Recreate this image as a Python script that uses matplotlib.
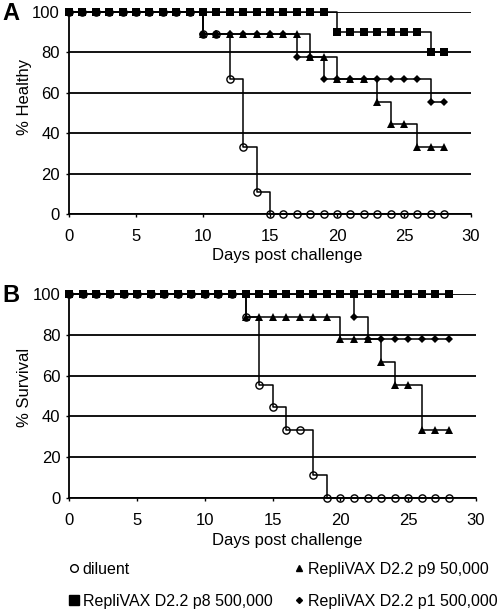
import matplotlib

matplotlib.use("Agg")
import matplotlib.pyplot as plt
from matplotlib.lines import Line2D

plt.rcParams["font.family"] = ["Liberation Sans", "DejaVu Sans"]
plt.rcParams["font.size"] = 11

days = list(range(29))
x_ticks = [0, 5, 10, 15, 20, 25, 30]
y_ticks = [0, 20, 40, 60, 80, 100]

series_names = [
    "diluent",
    "RepliVAX D2.2 p8 500,000",
    "RepliVAX D2.2 p9 50,000",
    "RepliVAX D2.2 p1 500,000",
]

# Panel A: % healthy (n=10 for p8, n=9 for the rest)
healthy_diluent = [
    100, 100, 100, 100, 100, 100, 100, 100, 100, 100,
    88.9, 88.9, 66.7, 33.3, 11.1, 0, 0, 0, 0, 0,
    0, 0, 0, 0, 0, 0, 0, 0, 0,
]
healthy_p8 = [
    100, 100, 100, 100, 100, 100, 100, 100, 100, 100,
    100, 100, 100, 100, 100, 100, 100, 100, 100, 100,
    90, 90, 90, 90, 90, 90, 90, 80, 80,
]
healthy_p9 = [
    100, 100, 100, 100, 100, 100, 100, 100, 100, 100,
    88.9, 88.9, 88.9, 88.9, 88.9, 88.9, 88.9, 88.9, 77.8, 77.8,
    66.7, 66.7, 66.7, 55.6, 44.4, 44.4, 33.3, 33.3, 33.3,
]
healthy_p1 = [
    100, 100, 100, 100, 100, 100, 100, 100, 100, 100,
    88.9, 88.9, 88.9, 88.9, 88.9, 88.9, 88.9, 77.8, 77.8, 66.7,
    66.7, 66.7, 66.7, 66.7, 66.7, 66.7, 66.7, 55.6, 55.6,
]

# Panel B: % survival
survival_diluent = [
    100, 100, 100, 100, 100, 100, 100, 100, 100, 100,
    100, 100, 100, 88.9, 55.6, 44.4, 33.3, 33.3, 11.1, 0,
    0, 0, 0, 0, 0, 0, 0, 0, 0,
]
survival_p8 = [
    100, 100, 100, 100, 100, 100, 100, 100, 100, 100,
    100, 100, 100, 100, 100, 100, 100, 100, 100, 100,
    100, 100, 100, 100, 100, 100, 100, 100, 100,
]
survival_p9 = [
    100, 100, 100, 100, 100, 100, 100, 100, 100, 100,
    100, 100, 100, 88.9, 88.9, 88.9, 88.9, 88.9, 88.9, 88.9,
    77.8, 77.8, 77.8, 66.7, 55.6, 55.6, 33.3, 33.3, 33.3,
]
survival_p1 = [
    100, 100, 100, 100, 100, 100, 100, 100, 100, 100,
    100, 100, 100, 100, 100, 100, 100, 100, 100, 100,
    100, 88.9, 77.8, 77.8, 77.8, 77.8, 77.8, 77.8, 77.8,
]

# marker styles, in the same order as series_names
STYLES = [
    dict(marker="o", markersize=5.2, markerfacecolor="none", markeredgewidth=1.0, zorder=2.3),
    dict(marker="s", markersize=5.4, markerfacecolor="black", markeredgewidth=0, zorder=2.4),
    dict(marker="^", markersize=5.2, markerfacecolor="black", markeredgewidth=0, zorder=2.2),
    dict(marker="D", markersize=3.7, markerfacecolor="black", markeredgewidth=0, zorder=2.1),
]


def draw_panel(ax, curves, ylabel, label_y, xlabel_x):
    for values, style in zip(curves, STYLES):
        ax.plot(days, values, drawstyle="steps-post", color="black",
                linewidth=1.1, markeredgecolor="black", clip_on=False, **style)
    ax.set_xlim(0, 30)
    ax.set_ylim(0, 100)
    ax.set_xticks(x_ticks)
    ax.set_yticks(y_ticks)
    ax.yaxis.grid(True, color="black", linewidth=1.3)
    ax.set_axisbelow(True)
    for side in ("top", "right"):
        ax.spines[side].set_visible(False)
    for side in ("left", "bottom"):
        ax.spines[side].set_linewidth(1.3)
    ax.tick_params(axis="x", direction="out", length=2.5, width=1, pad=8, labelsize=12)
    ax.tick_params(axis="y", direction="out", length=2.5, width=1, pad=4, labelsize=12)
    ax.set_xlabel("Days post challenge", fontsize=12)
    ax.set_ylabel(ylabel, fontsize=12)
    ax.xaxis.set_label_coords(xlabel_x, -0.17)
    ax.yaxis.set_label_coords(-0.092, label_y)


fig = plt.figure(figsize=(5, 6.1), dpi=100)
ax_a = fig.add_axes([0.138, 0.6492, 0.804, 0.331])
ax_b = fig.add_axes([0.1386, 0.1836, 0.8134, 0.3344])

draw_panel(ax_a, [healthy_diluent, healthy_p8, healthy_p9, healthy_p1],
           "% Healthy", 0.58, 0.542)
draw_panel(ax_b, [survival_diluent, survival_p8, survival_p9, survival_p1],
           "% Survival", 0.54, 0.5365)

fig.text(0.004, 1 - 20 / 610, "A", fontsize=17, fontweight="bold", va="baseline")
fig.text(0.004, 1 - 302 / 610, "B", fontsize=17, fontweight="bold", va="baseline")

legend_handles = [
    Line2D([], [], linestyle="none", marker="o", markersize=5.5,
           markerfacecolor="none", markeredgecolor="black", markeredgewidth=1.0),
    Line2D([], [], linestyle="none", marker="s", markersize=7,
           color="black"),
    Line2D([], [], linestyle="none", marker="^", markersize=4.5,
           color="black"),
    Line2D([], [], linestyle="none", marker="D", markersize=3,
           color="black"),
]
fig.legend(legend_handles, series_names, ncol=2, loc="upper left",
           bbox_to_anchor=(69 / 500, 1 - 562 / 610), frameon=False,
           fontsize=11.5, handlelength=0.6, handletextpad=0.25,
           columnspacing=1.4, labelspacing=1.05, borderpad=0,
           borderaxespad=0)

fig.savefig("out.png", dpi=100)
